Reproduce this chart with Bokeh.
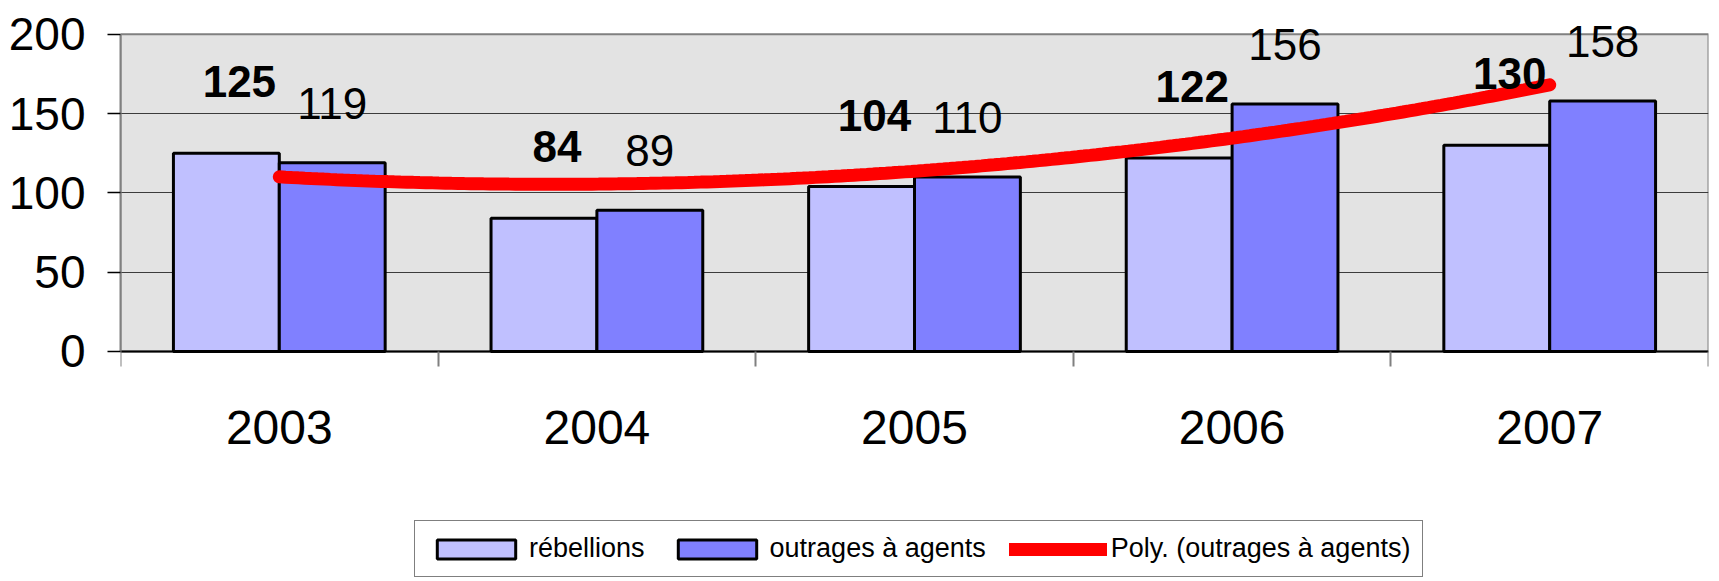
import numpy as np
from bokeh.plotting import figure
from bokeh.models import ColumnDataSource, Range1d, FixedTicker, LabelSet, Legend, LegendItem
from bokeh.core.properties import value
from bokeh.embed import file_html
from bokeh.resources import INLINE

# ---- data ----
categories = ["2003", "2004", "2005", "2006", "2007"]
rebellions = [125, 84, 104, 122, 130]
outrages = [119, 89, 110, 156, 158]
y_ticks = [0, 50, 100, 150, 200]
series_names = ["rébellions", "outrages à agents", "Poly. (outrages à agents)"]

FONT = "Liberation Sans"

n = len(categories)
centers = np.arange(n) + 0.5
bw = 1 / 3
y_top = y_ticks[-1]

src = ColumnDataSource(dict(
    x_reb=centers - bw / 2,
    x_out=centers + bw / 2,
    reb=rebellions,
    out=outrages,
    reb_txt=[str(v) for v in rebellions],
    out_txt=[str(v) for v in outrages],
))

# the frame spans the whole height so that labels and legend are never clipped;
# the plot area proper (0..200) is drawn as a shaded box
p = figure(width=1711, height=577,
           x_range=Range1d(0, n), y_range=Range1d(-142.5, 215),
           output_backend="svg", toolbar_location=None,
           min_border_left=120, min_border_right=3,
           min_border_top=10, min_border_bottom=0)
p.background_fill_color = "white"
p.border_fill_color = "white"
p.outline_line_color = None

p.quad(left=[0], right=[n], bottom=[y_ticks[0]], top=[y_top],
       fill_color="#E3E3E3", line_color="#808080", line_width=2, level="image")

# grid
p.xgrid.visible = False
p.ygrid.ticker = FixedTicker(ticks=y_ticks[1:-1])
p.ygrid.grid_line_color = "#3C3C3C"
p.ygrid.grid_line_width = 1

# y axis
ya = p.yaxis[0]
ya.ticker = FixedTicker(ticks=y_ticks)
ya.bounds = (y_ticks[0], y_top)
ya.major_label_text_font = FONT
ya.major_label_text_font_size = "46px"
ya.major_label_text_color = "black"
ya.major_tick_out = 13
ya.major_tick_in = 0
ya.minor_tick_out = 0
ya.minor_tick_in = 0
ya.major_label_standoff = 22
ya.axis_line_color = "#808080"
ya.axis_line_width = 2
ya.major_tick_line_color = "black"
ya.major_tick_line_width = 1.5

# x axis, pinned at y = 0
xa = p.xaxis[0]
xa.fixed_location = 0
xa.ticker = FixedTicker(ticks=list(centers), minor_ticks=list(range(n + 1)))
xa.major_label_overrides = {float(c): lab for c, lab in zip(centers, categories)}
xa.major_label_text_font = FONT
xa.major_label_text_font_size = "48px"
xa.major_label_text_color = "black"
xa.major_tick_out = 0
xa.major_tick_in = 0
xa.minor_tick_out = 15
xa.minor_tick_in = 0
xa.minor_tick_line_color = "#808080"
xa.minor_tick_line_width = 2
xa.major_label_standoff = 45
xa.axis_line_color = "black"
xa.axis_line_width = 2

# bars
r1 = p.vbar(x="x_reb", top="reb", bottom=0, width=bw, source=src,
            fill_color="#C0C0FF", line_color="black", line_width=3)
r2 = p.vbar(x="x_out", top="out", bottom=0, width=bw, source=src,
            fill_color="#8080FF", line_color="black", line_width=3)

# polynomial trend (order 2) of outrages
coef = np.polyfit(centers, outrages, 2)
xs = np.linspace(centers[0], centers[-1], 200)
ys = np.polyval(coef, xs)
r3 = p.line(xs, ys, line_color="#FF0000", line_width=13, line_cap="round")

# value labels
p.add_layout(LabelSet(x="x_reb", y="reb", text="reb_txt", source=src,
                      x_offset=13, y_offset=56, text_align="center",
                      text_baseline="alphabetic", text_font=value(FONT),
                      text_font_style="bold", text_font_size="44px",
                      text_color="black"))
p.add_layout(LabelSet(x="x_out", y="out", text="out_txt", source=src,
                      x_offset=0, y_offset=44, text_align="center",
                      text_baseline="alphabetic", text_font=value(FONT),
                      text_font_size="44px", text_color="black"))

legend = Legend(items=[LegendItem(label=series_names[0], renderers=[r1]),
                       LegendItem(label=series_names[1], renderers=[r2]),
                       LegendItem(label=series_names[2], renderers=[r3])],
                location=(294, 0), orientation="horizontal",
                glyph_width=98, glyph_height=24,
                label_text_font=FONT, label_text_font_size="27px",
                label_text_color="black",
                label_standoff=4, spacing=23, padding=12, margin=0,
                border_line_color="black", border_line_width=1.5,
                background_fill_color="white", background_fill_alpha=1)
p.add_layout(legend)

open("out.html", "w").write(file_html(p, INLINE))
